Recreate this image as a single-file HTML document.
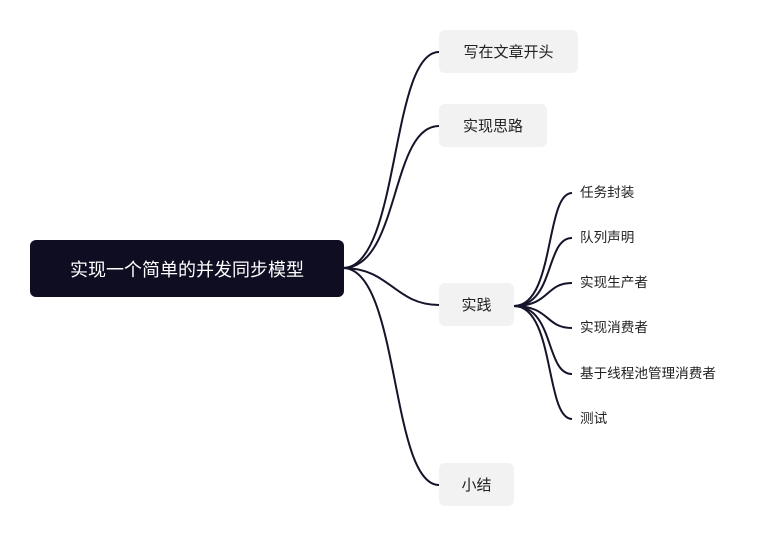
<!DOCTYPE html>
<html><head><meta charset="utf-8"><style>
body{margin:0;width:759px;height:537px;background:#fff;overflow:hidden;position:relative;font-family:"Liberation Sans","Noto Sans CJK SC",sans-serif}
.b{position:absolute;background:#f2f2f2;border-radius:6px;color:#222;font-size:15px;display:flex;align-items:center;justify-content:center;height:43px}
.l{position:absolute;font-size:13.6px;color:#222;left:580px;line-height:16px}
</style></head><body>
<svg width="759" height="537" style="position:absolute;left:0;top:0" fill="none" stroke="#15142a" stroke-width="2">
<path d="M343 268 C400 268,390 52,439 52"/>
<path d="M343 268 C400 268,390 126,439 126"/>
<path d="M343 268 C390 268,395 305,439 305"/>
<path d="M343 268 C400 268,390 485,439 485"/>
<path d="M514 306 C555 306,545 193,572 193"/>
<path d="M514 306 C555 306,545 238,572 238"/>
<path d="M514 306 C550 306,545 283,572 283"/>
<path d="M514 306 C550 306,545 328,572 328"/>
<path d="M514 306 C555 306,545 374,572 374"/>
<path d="M514 306 C555 306,545 419,572 419"/>
</svg>
<div style="position:absolute;left:30px;top:240px;width:314px;height:57px;background:#0e0d22;border-radius:6px;color:#fff;font-size:18px;display:flex;align-items:center;justify-content:center">实现一个简单的并发同步模型</div>
<div class="b" style="left:439px;top:30px;width:139px">写在文章开头</div>
<div class="b" style="left:439px;top:104px;width:108px">实现思路</div>
<div class="b" style="left:439px;top:283px;width:75px">实践</div>
<div class="b" style="left:439px;top:463px;width:75px">小结</div>
<div class="l" style="top:185px">任务封装</div>
<div class="l" style="top:230px">队列声明</div>
<div class="l" style="top:275px">实现生产者</div>
<div class="l" style="top:320px">实现消费者</div>
<div class="l" style="top:366px">基于线程池管理消费者</div>
<div class="l" style="top:411px">测试</div>
</body></html>
